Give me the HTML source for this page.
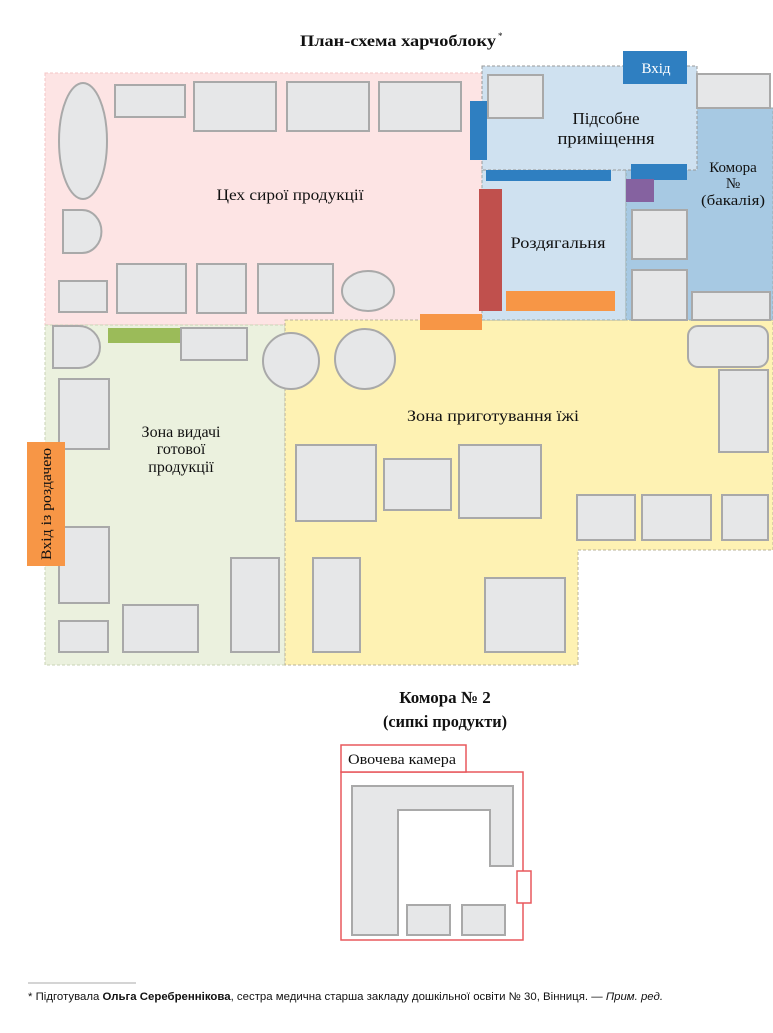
<!DOCTYPE html>
<html><head><meta charset="utf-8"><style>
html,body{margin:0;padding:0;background:#fff;width:773px;height:1033px;overflow:hidden}
svg{display:block}
text{font-family:"Liberation Serif",serif;fill:#111}
.g{fill:#e6e7e8;stroke:#a9a9a9;stroke-width:2}
</style></head><body>
<svg width="773" height="1033" viewBox="0 0 773 1033">
<text x="300" y="46" font-size="16" font-weight="bold" textLength="196" lengthAdjust="spacingAndGlyphs">План-схема харчоблоку</text><text x="498" y="39" font-size="9">*</text>
<!-- regions -->
<rect x="45" y="73" width="437" height="252" fill="#fde4e4" stroke="#f4c6c6" stroke-dasharray="3,2"/>
<rect x="45" y="325" width="240" height="340" fill="#ebf1de" stroke="#c9d3b5" stroke-dasharray="3,2"/>
<polygon points="285,320 773,320 773,550 578,550 578,665 285,665" fill="#fef2b3" stroke="#b9b39a" stroke-dasharray="3,2"/>
<rect x="482" y="170" width="144" height="150" fill="#cfe1f0" stroke="#9aa" stroke-dasharray="3,2"/>
<rect x="626" y="108" width="147" height="212" fill="#a7c9e3" stroke="#9aa" stroke-dasharray="3,2"/>
<rect x="482" y="66" width="215" height="104" fill="#cfe1f0" stroke="#999" stroke-dasharray="3,2"/>
<!-- pink fixtures -->
<ellipse cx="83" cy="141" rx="24" ry="58" class="g"/>
<rect x="115" y="85" width="70" height="32" class="g"/>
<rect x="194" y="82" width="82" height="49" class="g"/>
<rect x="287" y="82" width="82" height="49" class="g"/>
<rect x="379" y="82" width="82" height="49" class="g"/>
<path d="M63,210 H82 A19,21 0 0 1 82,253 H63 Z" class="g"/>
<rect x="59" y="281" width="48" height="31" class="g"/>
<rect x="117" y="264" width="69" height="49" class="g"/>
<rect x="197" y="264" width="49" height="49" class="g"/>
<rect x="258" y="264" width="75" height="49" class="g"/>
<ellipse cx="368" cy="291" rx="26" ry="20" class="g"/>
<!-- subsid & komora -->
<rect x="488" y="75" width="55" height="43" class="g"/>
<rect x="697" y="74" width="73" height="34" class="g"/>
<rect x="632" y="210" width="55" height="49" class="g"/>
<rect x="632" y="270" width="55" height="50" class="g"/>
<rect x="692" y="292" width="78" height="28" class="g"/>
<rect x="470" y="101" width="17" height="59" fill="#2f7fc1"/>
<rect x="486" y="170" width="125" height="11" fill="#2f7fc1"/>
<rect x="631" y="164" width="56" height="16" fill="#2f7fc1"/>
<rect x="623" y="51" width="64" height="33" fill="#2f7fc1"/>
<text x="656" y="73" font-size="15" text-anchor="middle" style="fill:#fff">Вхід</text>
<rect x="626" y="179" width="28" height="23" fill="#8562a0"/>
<rect x="479" y="189" width="23" height="122" fill="#c0504d"/>
<rect x="506" y="291" width="109" height="20" fill="#f79646"/>
<rect x="420" y="314" width="62" height="16" fill="#f79646"/>
<!-- green -->
<rect x="108" y="328" width="73" height="15" fill="#9bbb59"/>
<rect x="181" y="328" width="66" height="32" class="g"/>
<path d="M53,326 H79 A21,21 0 0 1 79,368 H53 Z" class="g"/>
<rect x="59" y="379" width="50" height="70" class="g"/>
<rect x="59" y="527" width="50" height="76" class="g"/>
<rect x="59" y="621" width="49" height="31" class="g"/>
<rect x="123" y="605" width="75" height="47" class="g"/>
<rect x="231" y="558" width="48" height="94" class="g"/>
<rect x="27" y="442" width="38" height="124" fill="#f79646"/>
<text transform="translate(51,504) rotate(-90)" font-size="15" text-anchor="middle" textLength="112" lengthAdjust="spacingAndGlyphs">Вхід із роздачею</text>
<!-- yellow -->
<circle cx="291" cy="361" r="28" class="g"/>
<circle cx="365" cy="359" r="30" class="g"/>
<rect x="688" y="326" width="80" height="41" rx="10" class="g"/>
<rect x="719" y="370" width="49" height="82" class="g"/>
<rect x="296" y="445" width="80" height="76" class="g"/>
<rect x="384" y="459" width="67" height="51" class="g"/>
<rect x="459" y="445" width="82" height="73" class="g"/>
<rect x="577" y="495" width="58" height="45" class="g"/>
<rect x="642" y="495" width="69" height="45" class="g"/>
<rect x="722" y="495" width="46" height="45" class="g"/>
<rect x="313" y="558" width="47" height="94" class="g"/>
<rect x="485" y="578" width="80" height="74" class="g"/>
<!-- labels -->
<text x="290" y="200" font-size="16" text-anchor="middle" textLength="147" lengthAdjust="spacingAndGlyphs">Цех сирої продукції</text>
<text x="606" y="124" font-size="17" text-anchor="middle">Підсобне</text>
<text x="606" y="144" font-size="17" text-anchor="middle" textLength="97" lengthAdjust="spacingAndGlyphs">приміщення</text>
<text x="558" y="248" font-size="16" text-anchor="middle" textLength="95" lengthAdjust="spacingAndGlyphs">Роздягальня</text>
<text x="733" y="172" font-size="15" text-anchor="middle">Комора</text>
<text x="733" y="188" font-size="15" text-anchor="middle">№</text>
<text x="733" y="205" font-size="15" text-anchor="middle" textLength="64" lengthAdjust="spacingAndGlyphs">(бакалія)</text>
<text x="181" y="437" font-size="16" text-anchor="middle">Зона видачі</text>
<text x="181" y="454" font-size="16" text-anchor="middle">готової</text>
<text x="181" y="472" font-size="16" text-anchor="middle">продукції</text>
<text x="493" y="421" font-size="16" text-anchor="middle" textLength="172" lengthAdjust="spacingAndGlyphs">Зона приготування їжі</text>
<text x="445" y="703" font-size="17" font-weight="bold" text-anchor="middle">Комора № 2</text>
<text x="445" y="727" font-size="17" font-weight="bold" text-anchor="middle" textLength="124" lengthAdjust="spacingAndGlyphs">(сипкі продукти)</text>
<!-- komora 2 -->
<rect x="341" y="772" width="182" height="168" fill="#fff" stroke="#e8585d" stroke-width="1.5"/>
<rect x="341" y="745" width="125" height="27" fill="#fff" stroke="#e8585d" stroke-width="1.5"/>
<text x="348" y="764" font-size="15" textLength="108" lengthAdjust="spacingAndGlyphs">Овочева камера</text>
<path d="M352,786 H513 V866 H490 V810 H398 V935 H352 Z" class="g"/>
<rect x="407" y="905" width="43" height="30" class="g"/>
<rect x="462" y="905" width="43" height="30" class="g"/>
<rect x="517" y="871" width="14" height="32" fill="#fff" stroke="#e8585d" stroke-width="1.5"/>
<!-- footnote -->
<line x1="28" y1="983" x2="136" y2="983" stroke="#aaa" stroke-width="1"/>
<text x="28" y="1000" font-size="11" textLength="635" lengthAdjust="spacingAndGlyphs" style="font-family:'Liberation Sans',sans-serif">* Підготувала <tspan font-weight="bold">Ольга Серебреннікова</tspan>, сестра медична старша закладу дошкільної освіти № 30, Вінниця. — <tspan font-style="italic">Прим. ред.</tspan></text>
</svg>
</body></html>
